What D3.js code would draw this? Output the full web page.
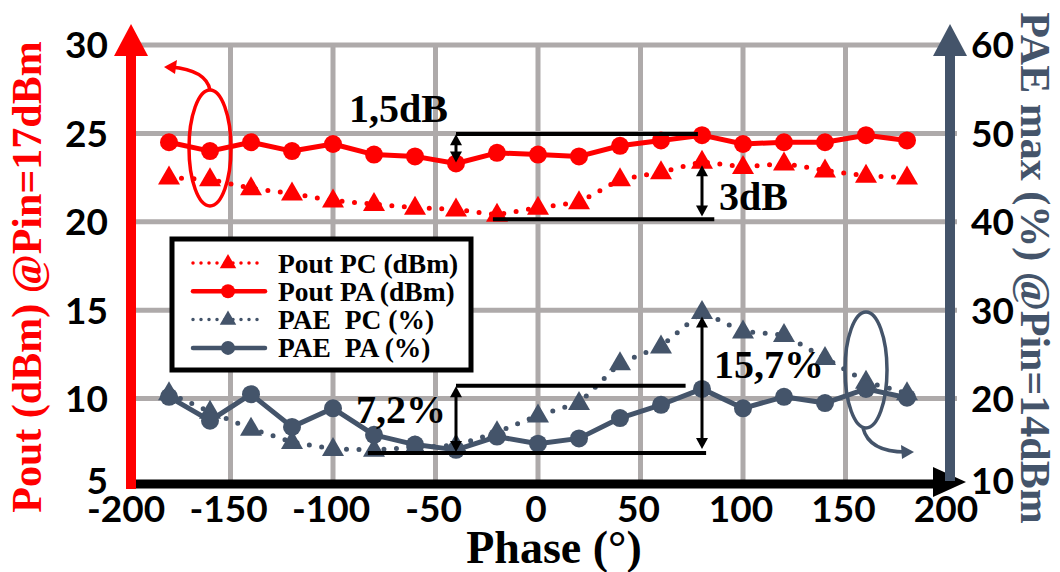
<!DOCTYPE html>
<html>
<head>
<meta charset="utf-8">
<script src="https://cdn.jsdelivr.net/npm/d3@7"></script>
<style>
  html, body { margin: 0; padding: 0; background: #fff; }
  svg { display: block; }
</style>
</head>
<body>
<svg id="chart" width="1060" height="572"></svg>
<script>
// ---------------- DATA ----------------
const phase = [-180, -160, -140, -120, -100, -80, -60, -40, -20, 0, 20, 40, 60, 80, 100, 120, 140, 160, 180];
const poutPC = [22.5, 22.4, 21.9, 21.6, 21.2, 21.0, 20.8, 20.7, 20.4, 20.8, 21.1, 22.4, 22.8, 23.4, 23.1, 23.3, 22.9, 22.6, 22.5];
const poutPA = [24.5, 24.0, 24.5, 24.0, 24.4, 23.8, 23.7, 23.3, 23.9, 23.8, 23.7, 24.3, 24.6, 24.9, 24.4, 24.5, 24.5, 24.9, 24.6];
const paePC  = [20.6, 18.5, 16.6, 15.1, 14.3, 14.2, 14.5, 14.7, 16.2, 18.1, 19.5, 24.0, 25.9, 29.8, 27.6, 27.2, 24.6, 21.9, 20.6];
const paePA  = [20.2, 17.5, 20.5, 16.8, 18.9, 15.9, 14.8, 14.2, 15.7, 14.9, 15.5, 17.8, 19.3, 21.1, 18.9, 20.2, 19.5, 21.1, 20.1];

const xTicks = [-200, -150, -100, -50, 0, 50, 100, 150, 200];
const yLeftTicks = [5, 10, 15, 20, 25, 30];
const yRightTicks = [10, 20, 30, 40, 50, 60];
const legendLabels = ["Pout PC (dBm)", "Pout PA (dBm)", "PAE\u00a0\u00a0PC (%)", "PAE\u00a0\u00a0PA (%)"];
const annotations = ["1,5dB", "3dB", "7,2%", "15,7%"];
const xTitle = "Phase (°)";
const yLeftTitle = "Pout (dBm) @Pin=17dBm";
const yRightTitle = "PAE max (%) @Pin=14dBm";

// ---------------- SETUP ----------------
const RED = "#FF0000";
const SLATE = "#44546A";
const GRID = "#AEAAAA";
const svg = d3.select("#chart");

const x = d3.scaleLinear().domain([-200, 200]).range([128, 948]);
const yL = d3.scaleLinear().domain([5, 30]).range([487, 45]);
const yR = d3.scaleLinear().domain([10, 60]).range([487, 45]);

// ---------------- GRID ----------------
const g = svg.append("g");
g.selectAll("line.h").data([10, 15, 20, 25, 30]).join("line")
  .attr("x1", x(-200)).attr("x2", (d) => d === 30 ? x(200) : x(200) + 9)
  .attr("y1", d => yL(d)).attr("y2", d => yL(d))
  .attr("stroke", GRID).attr("stroke-width", 5);
g.selectAll("line.v").data([-150, -100, -50, 0, 50, 100, 150]).join("line")
  .attr("x1", d => x(d)).attr("x2", d => x(d))
  .attr("y1", yL(30)).attr("y2", yL(5))
  .attr("stroke", GRID).attr("stroke-width", 5);

// ---------------- AXES ----------------
svg.append("line").attr("x1", x(-200)).attr("x2", 936).attr("y1", 484).attr("y2", 484)
  .attr("stroke", "#000").attr("stroke-width", 9);
svg.append("path").attr("d", "M933,467 L966,482 L933,497 Z").attr("fill", "#000");
svg.append("line").attr("x1", 950).attr("x2", 950).attr("y1", 52).attr("y2", 481)
  .attr("stroke", SLATE).attr("stroke-width", 10);
svg.append("path").attr("d", "M933,56 L950,24 L967,56 Z").attr("fill", SLATE);
svg.append("line").attr("x1", 131).attr("x2", 131).attr("y1", 52).attr("y2", 489)
  .attr("stroke", RED).attr("stroke-width", 10);
svg.append("path").attr("d", "M114,56 L131,24 L148,56 Z").attr("fill", RED);

// tick labels
const tickFont = "Lato, 'Liberation Sans', Arial, sans-serif";
svg.append("g").selectAll("text").data(yLeftTicks).join("text")
  .attr("x", 108).attr("y", d => d === 5 ? yL(d) - 6 : yL(d)).attr("dy", "0.36em")
  .attr("text-anchor", "end").attr("font-family", tickFont).attr("font-weight", "bold")
  .attr("font-size", 37).attr("fill", "#000").text(d => d);
svg.append("g").selectAll("text").data(yRightTicks).join("text")
  .attr("x", 971).attr("y", d => d === 10 ? yR(d) - 6 : yR(d)).attr("dy", "0.36em")
  .attr("text-anchor", "start").attr("font-family", tickFont).attr("font-weight", "bold")
  .attr("font-size", 37).attr("fill", "#000").text(d => d);
svg.append("g").selectAll("text").data(xTicks).join("text")
  .attr("x", d => x(d) - 2).attr("y", 522)
  .attr("text-anchor", "middle").attr("font-family", tickFont).attr("font-weight", "bold")
  .attr("font-size", 37).attr("fill", "#000").text(d => d);

// titles
const serif = "'Liberation Serif', 'Times New Roman', serif";
svg.append("text").attr("x", 554).attr("y", 563).attr("text-anchor", "middle")
  .attr("font-family", serif).attr("font-weight", "bold").attr("font-size", 46)
  .attr("fill", "#000").text(xTitle);
svg.append("text").attr("transform", "translate(41,277) rotate(-90)").attr("text-anchor", "middle")
  .attr("font-family", serif).attr("font-weight", "bold").attr("font-size", 42)
  .attr("fill", RED).text(yLeftTitle);
svg.append("text").attr("transform", "translate(1021,268) rotate(90)").attr("text-anchor", "middle")
  .attr("font-family", serif).attr("font-weight", "bold").attr("font-size", 42)
  .attr("fill", SLATE).text(yRightTitle);

// ---------------- SERIES ----------------
const triPath = (s) => `M0,${-12*s} L${11*s},${7*s} L${-11*s},${7*s} Z`;
const series = [
  { vals: paePC, scale: yR, color: SLATE, dotted: true, marker: "tri" },
  { vals: paePA, scale: yR, color: SLATE, dotted: false, marker: "circ" },
  { vals: poutPC, scale: yL, color: RED, dotted: true, marker: "tri" },
  { vals: poutPA, scale: yL, color: RED, dotted: false, marker: "circ" }
];
const sg = svg.append("g");
series.forEach(s => {
  const pts = phase.map((p, i) => [x(p), s.scale(s.vals[i])]);
  const line = d3.line();
  sg.append("path").attr("d", line(pts)).attr("fill", "none")
    .attr("stroke", s.color).attr("stroke-width", 5)
    .attr("stroke-linecap", "round").attr("stroke-linejoin", "round")
    .attr("stroke-dasharray", s.dotted ? "0 12.5" : null);
  const m = sg.append("g").selectAll("g").data(pts).join("g")
    .attr("transform", d => `translate(${d[0]},${d[1]})`);
  if (s.marker === "circ") {
    m.append("circle").attr("r", 9).attr("fill", s.color);
  } else {
    m.append("path").attr("d", triPath(1)).attr("fill", s.color);
  }
});

// ---------------- LEGEND ----------------
const lg = svg.append("g");
lg.append("rect").attr("x", 172).attr("y", 239).attr("width", 299).attr("height", 131)
  .attr("fill", "#fff").attr("stroke", "#000").attr("stroke-width", 5);
const legendItems = [
  { color: RED, dotted: true, marker: "tri" },
  { color: RED, dotted: false, marker: "circ" },
  { color: SLATE, dotted: true, marker: "tri" },
  { color: SLATE, dotted: false, marker: "circ" }
];
legendItems.forEach((it, i) => {
  const cy = 263 + i * 28.3;
  lg.append("line").attr("x1", 193).attr("x2", 265).attr("y1", cy).attr("y2", cy)
    .attr("stroke", it.color).attr("stroke-width", it.dotted ? 3.5 : 4.5)
    .attr("stroke-linecap", "round").attr("stroke-dasharray", it.dotted ? "0 8" : null);
  if (it.marker === "circ") {
    lg.append("circle").attr("cx", 228).attr("cy", cy).attr("r", 7).attr("fill", it.color);
  } else {
    lg.append("path").attr("transform", `translate(228,${cy})`).attr("d", triPath(0.75)).attr("fill", it.color);
  }
  lg.append("text").attr("x", 278).attr("y", cy + 9.5)
    .attr("font-family", serif).attr("font-weight", "bold").attr("font-size", 27.5)
    .attr("fill", "#000").text(legendLabels[i]);
});

// ---------------- ANNOTATIONS ----------------
const ag = svg.append("g");
function hline(x1, x2, yy) {
  ag.append("line").attr("x1", x1).attr("x2", x2).attr("y1", yy).attr("y2", yy)
    .attr("stroke", "#000").attr("stroke-width", 4);
}
function darrow(xx, y1, y2) {
  ag.append("line").attr("x1", xx).attr("x2", xx).attr("y1", y1 + 8).attr("y2", y2 - 8)
    .attr("stroke", "#000").attr("stroke-width", 3);
  ag.append("path").attr("d", `M${xx},${y1} L${xx + 6},${y1 + 11} L${xx - 6},${y1 + 11} Z`).attr("fill", "#000");
  ag.append("path").attr("d", `M${xx},${y2} L${xx + 6},${y2 - 11} L${xx - 6},${y2 - 11} Z`).attr("fill", "#000");
}
function label(txt, xx, yy) {
  ag.append("text").attr("x", xx).attr("y", yy).attr("font-family", serif)
    .attr("font-weight", "bold").attr("font-size", 40).attr("fill", "#000").text(txt);
}
hline(x(-40), x(78), yL(24.97));
darrow(x(-40), yL(24.95), yL(23.35));
label(annotations[0], 349, 122);
hline(x(-22), x(86), yL(20.15));
darrow(x(80), yL(23.2), yL(20.3));
label(annotations[1], 719, 210);
hline(x(-40), x(72), yR(21.45));
hline(x(-83), x(82), yR(13.85));
darrow(x(-40), yR(21.4), yR(13.95));
label(annotations[2], 356, 423);
darrow(x(80), yR(29.3), yR(14.3));
label(annotations[3], 714, 378);

// ---------------- ELLIPSES + CURVED ARROWS ----------------
svg.append("ellipse").attr("cx", x(-160)).attr("cy", 148).attr("rx", 21).attr("ry", 58)
  .attr("fill", "none").attr("stroke", RED).attr("stroke-width", 3.5);
svg.append("path").attr("d", `M${x(-160)},90 Q${x(-160) - 4},70 171,67`)
  .attr("fill", "none").attr("stroke", RED).attr("stroke-width", 3.5);
svg.append("path").attr("d", "M164,67 L177,60 L175,74 Z").attr("fill", RED);

svg.append("ellipse").attr("cx", x(160)).attr("cy", 370).attr("rx", 21).attr("ry", 58)
  .attr("fill", "none").attr("stroke", SLATE).attr("stroke-width", 3.5);
svg.append("path").attr("d", `M${x(160) - 3},428 Q${x(160) + 3},452 906,452`)
  .attr("fill", "none").attr("stroke", SLATE).attr("stroke-width", 3.5);
svg.append("path").attr("d", "M914,452 L901,445 L902,459 Z").attr("fill", SLATE);
</script>
</body>
</html>
